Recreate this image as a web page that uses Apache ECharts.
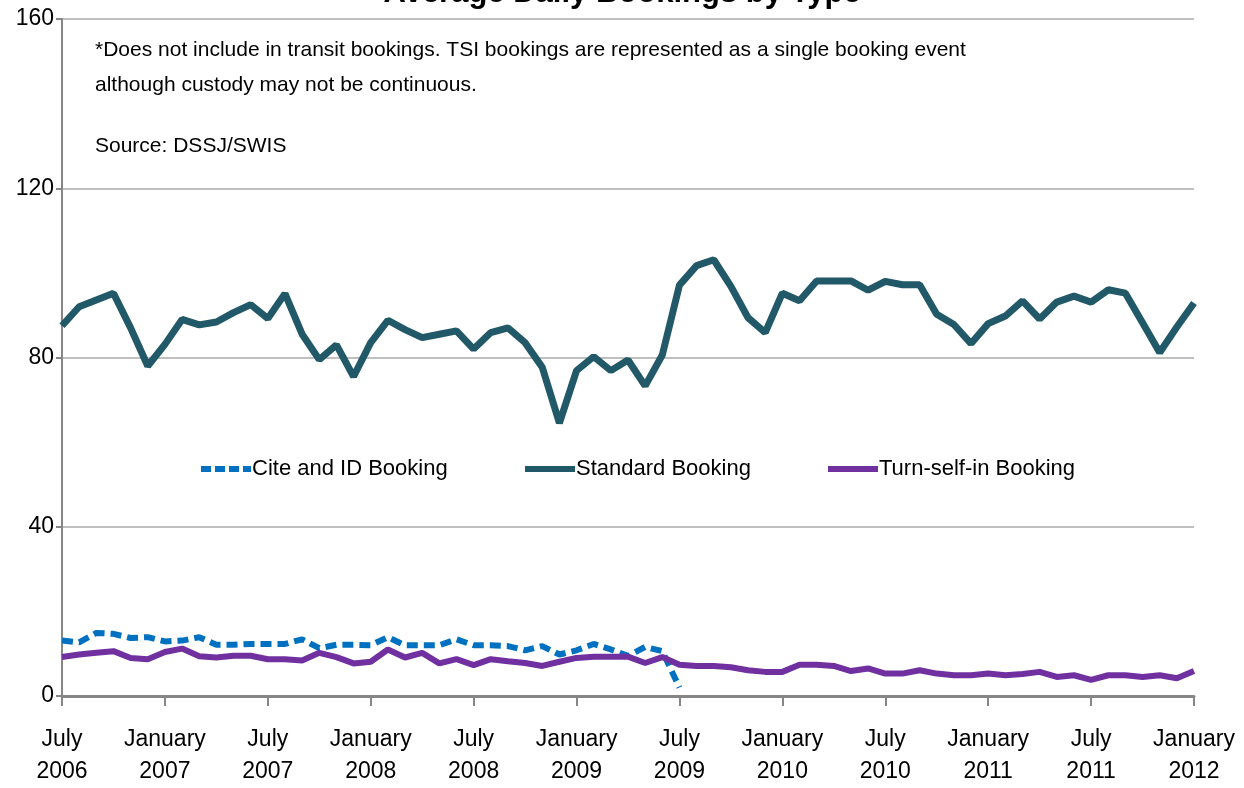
<!DOCTYPE html>
<html>
<head>
<meta charset="utf-8">
<script src="https://cdn.jsdelivr.net/npm/echarts@6/dist/echarts.min.js"></script>
<style>
  html, body { margin: 0; padding: 0; background: #fff; }
  #chart { width: 1244px; height: 788px; }
</style>
</head>
<body>
<div id="chart"></div>
<script>
// months Jul 2006 .. Jan 2012
var monthNames = ['January','February','March','April','May','June','July','August','September','October','November','December'];
var months = [];
for (var i = 0; i < 67; i++) {
  var m = (6 + i) % 12, y = 2006 + Math.floor((6 + i) / 12);
  months.push(monthNames[m] + '\n' + y);
}

var standardBooking = [
  87.5, 92, 93.6, 95.2, 87, 78,
  83.1, 89, 87.7, 88.4, 90.6, 92.5, 89.2, 95.1, 85.5, 79.5, 83, 75.5,
  83.5, 88.8, 86.6, 84.7, 85.5, 86.3, 82, 85.9, 87, 83.5, 77.7, 64.5,
  76.9, 80.2, 76.9, 79.4, 73.3, 80.6, 97.1, 101.7, 103.1, 96.8, 89.4, 85.9,
  95.2, 93.4, 98.1, 98.1, 98.1, 95.9, 98, 97.2, 97.2, 90.2, 87.8, 83.3,
  88, 89.8, 93.4, 89.1, 93.1, 94.5, 93.1, 96, 95.2, 88.2, 81.2, 87.2,
  92.9
];

var turnSelfIn = [
  9.2, 9.8, 10.2, 10.6, 9, 8.7,
  10.4, 11.2, 9.4, 9.1, 9.5, 9.5, 8.7, 8.7, 8.4, 10.2, 9.2, 7.7,
  8.1, 11, 9.1, 10.2, 7.7, 8.7, 7.3, 8.7, 8.2, 7.8, 7.1, 8.1,
  9, 9.3, 9.3, 9.3, 7.8, 9.2, 7.4, 7.1, 7.1, 6.8, 6.1, 5.7,
  5.7, 7.4, 7.4, 7.1, 5.9, 6.5, 5.3, 5.3, 6.1, 5.3, 4.9, 4.9,
  5.3, 4.9, 5.2, 5.7, 4.5, 4.9, 3.8, 4.9, 4.9, 4.5, 4.9, 4.2,
  5.9
];

var citeAndId = [
  13.1, 12.7, 14.9, 14.7, 13.7, 13.9,
  12.9, 13.1, 13.9, 12.1, 12.1, 12.3, 12.3, 12.3, 13.4, 11.3, 12.1, 12.1,
  12, 13.9, 12, 12, 12, 13.4, 12, 12, 11.8, 10.8, 11.8, 9.8,
  10.8, 12.3, 11, 9.5, 11.6, 10.6, 2
];

var font = "'Liberation Sans', Arial, sans-serif";
var solidIcon = 'path://M0,0H50V6H0Z';
var dashIcon = 'path://M0,0H10V6H0Z M14,0H24V6H14Z M28,0H38V6H28Z M42,0H50V6H42Z';

function legendAt(left, name, icon) {
  return {
    top: 453, left: left, itemWidth: 50, itemHeight: 6, itemGap: 0,
    textStyle: { fontFamily: font, fontSize: 22, color: '#000', padding: [0, 0, 0, -4] },
    data: [{ name: name, icon: icon }]
  };
}

var chart = echarts.init(document.getElementById('chart'));
chart.setOption({
  animation: false,
  title: {
    text: 'Average Daily Bookings by Type',
    left: 'center',
    top: -27,
    textStyle: { fontFamily: font, fontSize: 31, fontWeight: 'bold', color: '#000' }
  },
  legend: [
    legendAt(196, 'Cite and ID Booking', dashIcon),
    legendAt(520, 'Standard Booking', solidIcon),
    legendAt(823, 'Turn-self-in Booking', solidIcon)
  ],
  grid: { left: 62, right: 50, top: 19, bottom: 87 },
  graphic: [
    { type: 'text', left: 95, top: 40, style: { text: '*Does not include in transit bookings. TSI bookings are represented as a single booking event', font: '21px ' + font, fill: '#000' } },
    { type: 'text', left: 95, top: 75, style: { text: 'although custody may not be continuous.', font: '21px ' + font, fill: '#000' } },
    { type: 'text', left: 95, top: 136, style: { text: 'Source: DSSJ/SWIS', font: '21px ' + font, fill: '#000' } }
  ],
  xAxis: {
    type: 'category',
    data: months,
    boundaryGap: false,
    axisLine: { lineStyle: { color: '#868686', width: 3 } },
    axisTick: { interval: 5, length: 10, lineStyle: { color: '#868686', width: 2 } },
    axisLabel: { interval: 5, margin: 28, fontFamily: font, fontSize: 23, color: '#000', lineHeight: 32 },
    splitLine: { show: false }
  },
  yAxis: {
    type: 'value',
    min: 0, max: 160, interval: 40,
    axisLine: { show: true, lineStyle: { color: '#868686', width: 2 } },
    axisTick: { show: true, length: 6, lineStyle: { color: '#868686', width: 2 } },
    axisLabel: { fontFamily: font, fontSize: 23, color: '#000', margin: 8 },
    splitLine: { lineStyle: { color: '#BFBFBF', width: 2 } }
  },
  series: [
    {
      name: 'Cite and ID Booking', type: 'line', data: citeAndId, symbol: 'none',
      lineStyle: { color: '#0070C0', width: 6, type: [11, 6] },
      itemStyle: { color: '#0070C0' }
    },
    {
      name: 'Standard Booking', type: 'line', data: standardBooking, symbol: 'none',
      lineStyle: { color: '#215968', width: 7 },
      itemStyle: { color: '#215968' }
    },
    {
      name: 'Turn-self-in Booking', type: 'line', data: turnSelfIn, symbol: 'none',
      lineStyle: { color: '#7030A0', width: 6 },
      itemStyle: { color: '#7030A0' }
    }
  ]
});
</script>
</body>
</html>
